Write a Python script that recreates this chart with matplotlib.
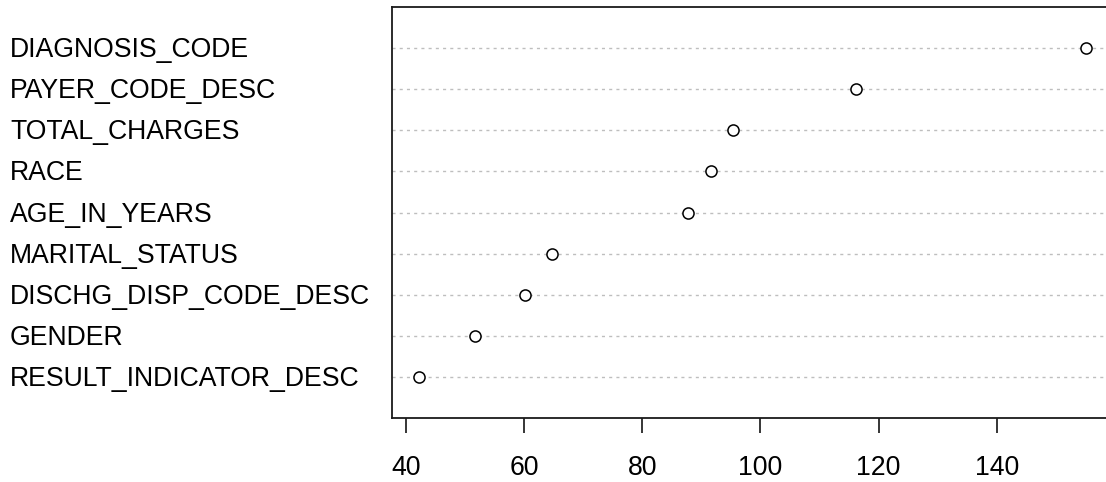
import matplotlib
matplotlib.use("Agg")

import matplotlib.pyplot as plt
from matplotlib.transforms import blended_transform_factory, offset_copy

# variable importance, listed bottom row first (as R's dotchart draws them)
variables = [
    "RESULT_INDICATOR_DESC",
    "GENDER",
    "DISCHG_DISP_CODE_DESC",
    "MARITAL_STATUS",
    "AGE_IN_YEARS",
    "RACE",
    "TOTAL_CHARGES",
    "PAYER_CODE_DESC",
    "DIAGNOSIS_CODE",
]
importance = [42.2, 51.7, 60.1, 64.7, 87.8, 91.6, 95.3, 116.2, 155.2]
xticks = [40, 60, 80, 100, 120, 140]

plt.rcParams["font.family"] = ["Liberation Sans", "DejaVu Sans"]
fs = 19.2

W, H = 1106, 482
fig = plt.figure(figsize=(W / 100, H / 100), dpi=100)
# right edge of the plot box falls just outside the picture, as in the original
ax = fig.add_axes([392 / W, 64 / H, 724 / W, 411 / H])

rows = list(range(1, len(variables) + 1))
for r in rows:
    ax.axhline(r, color="#bebebe", linestyle=(0, (2.2, 3.0)), linewidth=1.0, zorder=1)

ax.plot(importance, rows, linestyle="none", marker="o", markersize=8,
        markerfacecolor="white", markeredgecolor="black", markeredgewidth=1.1, zorder=3)

ax.set_xlim(37.6, 160.2)
ax.set_ylim(0, len(variables) + 1)
ax.set_xticks(xticks)
ax.set_xticklabels([str(t) for t in xticks], fontsize=fs)
ax.set_yticks([])
ax.tick_params(axis="x", direction="out", length=11, width=1.1, pad=15.5, colors="black")

for s in ax.spines.values():
    s.set_linewidth(1.3)
    s.set_color("#1a1a1a")

trans = blended_transform_factory(fig.transFigure, ax.transData)
trans = offset_copy(trans, fig=fig, x=0, y=-2, units="dots")
for r, name in zip(rows, variables):
    ax.text(10 / W, r, name, transform=trans, ha="left", va="center",
            fontsize=fs, color="black", clip_on=False)

fig.savefig("out.png", dpi=100)
